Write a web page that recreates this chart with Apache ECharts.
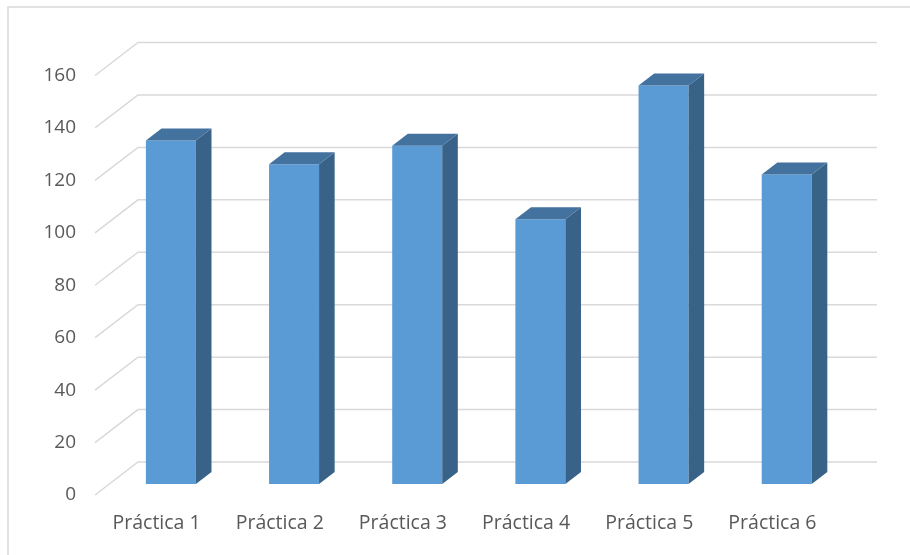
<!DOCTYPE html>
<html>
<head>
<meta charset="utf-8">
<script src="https://cdn.jsdelivr.net/npm/echarts@6/dist/echarts.min.js"></script>
<style>
    html, body { margin: 0; padding: 0; background: #fff; }
    #chart { width: 910px; height: 555px; }
</style>
</head>
<body>
<div id="chart"></div>
<script>
// data
var categories = ['Práctica 1', 'Práctica 2', 'Práctica 3', 'Práctica 4', 'Práctica 5', 'Práctica 6']
var values = [131, 122, 129, 101, 152, 118]
var yTicks = [0, 20, 40, 60, 80, 100, 120, 140, 160]

// 3d look: back wall offset, bar offset and bar depth
var wall = [43, -33]
var barShift = [14.3, -11]
var barDepth = [15.6, -12]

var chart = echarts.init(document.getElementById('chart'))

chart.setOption({
    animation: false,
    textStyle: { fontFamily: 'Open Sans' },
    graphic: [{
        type: 'rect',
        shape: { x: 8, y: 7, width: 920, height: 570 },
        style: { fill: 'none', stroke: '#D9D9D9', lineWidth: 1.5 },
        silent: true
    }],
    grid: {
        left: 95,
        right: 76,
        top: 75.5,
        bottom: 60
    },
    xAxis: {
        type: 'category',
        data: categories,
        axisLine: { show: false },
        axisTick: { show: false },
        axisLabel: { color: '#595959', fontSize: 19.5, margin: 18 }
    },
    yAxis: {
        type: 'value',
        min: 0,
        max: 160,
        interval: 20,
        axisLine: { show: false },
        axisTick: { show: false },
        splitLine: { show: false },
        axisLabel: { color: '#595959', fontSize: 19, margin: 19 }
    },
    series: [{
        // gridlines on the back wall + floor diagonals
        type: 'custom',
        silent: true,
        z: 1,
        data: yTicks.map(function (v) { return [0, v] }),
        renderItem: function (params, api) {
            var cs = params.coordSys
            var y = api.coord([0, api.value(1)])[1]
            return {
                type: 'polyline',
                shape: {
                    points: [
                        [cs.x, y],
                        [cs.x + wall[0], y + wall[1]],
                        [cs.x + cs.width + wall[0], y + wall[1]]
                    ]
                },
                style: { fill: null, stroke: '#D9D9D9', lineWidth: 1.5 }
            }
        }
    }, {
        type: 'custom',
        z: 2,
        data: values.map(function (v, i) { return [i, v] }),
        renderItem: function (params, api) {
            var i = api.value(0)
            var p0 = api.coord([i, 0])
            var p1 = api.coord([i, api.value(1)])
            var w = api.size([1, 0])[0] * 0.406
            var xl = p0[0] + barShift[0] - w / 2
            var xr = xl + w
            var yb = p0[1] + barShift[1]
            var yt = p1[1] + barShift[1]
            var dx = barDepth[0], dy = barDepth[1]
            return {
                type: 'group',
                children: [{
                    type: 'rect',
                    shape: { x: xl, y: yt, width: w, height: yb - yt },
                    style: { fill: '#5B9BD5' }
                }, {
                    type: 'polygon',
                    shape: { points: [[xr, yb], [xr + dx, yb + dy], [xr + dx, yt + dy], [xr, yt]] },
                    style: { fill: '#386287' }
                }, {
                    type: 'polygon',
                    shape: { points: [[xl, yt], [xl + dx, yt + dy], [xr + dx, yt + dy], [xr, yt]] },
                    style: { fill: '#43729F' }
                }]
            }
        }
    }]
})
</script>
</body>
</html>
